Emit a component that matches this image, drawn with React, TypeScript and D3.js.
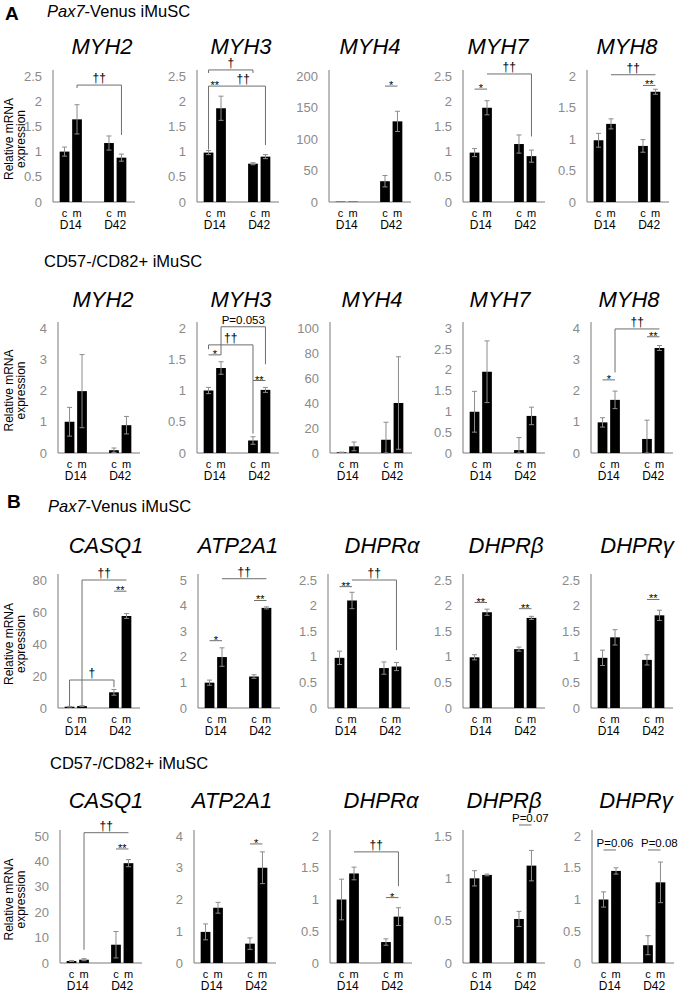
import React, { useEffect, useRef } from 'react';
import * as d3 from 'd3';

// ---- data ----
const groups = ['D14', 'D42'];
const conditions = ['c', 'm'];

const myhGenes = ['MYH2', 'MYH3', 'MYH4', 'MYH7', 'MYH8'];
const caGenes = ['CASQ1', 'ATP2A1', 'DHPRα', 'DHPRβ', 'DHPRγ'];

// bar order: D14 c, D14 m, D42 c, D42 m
const pax7MyhMeans = [
    [1.0, 1.64, 1.17, 0.88],
    [0.98, 1.86, 0.76, 0.9],
    [0.5, 0.5, 33, 128],
    [0.98, 1.87, 1.15, 0.91],
    [0.98, 1.24, 0.89, 1.75],
];
const pax7MyhErrors = [
    [0.09, 0.29, 0.14, 0.07],
    [0.04, 0.24, 0.02, 0.04],
    [0, 0, 9, 16],
    [0.08, 0.14, 0.18, 0.12],
    [0.11, 0.08, 0.1, 0.04],
];
const pax7MyhTicks = [
    [0, 0.5, 1, 1.5, 2, 2.5],
    [0, 0.5, 1, 1.5, 2, 2.5],
    [0, 50, 100, 150, 200],
    [0, 0.5, 1, 1.5, 2, 2.5],
    [0, 0.5, 1, 1.5, 2],
];

const cd57MyhMeans = [
    [1.0, 1.98, 0.09, 0.89],
    [1.0, 1.36, 0.2, 1.01],
    [0.5, 5.3, 10.6, 40],
    [0.99, 1.95, 0.07, 0.89],
    [0.98, 1.7, 0.45, 3.36],
];
const cd57MyhErrors = [
    [0.46, 1.17, 0.07, 0.28],
    [0.05, 0.1, 0.06, 0.04],
    [0.2, 3.5, 14, 37],
    [0.49, 0.74, 0.3, 0.21],
    [0.15, 0.28, 0.6, 0.08],
];
const cd57MyhTicks = [
    [0, 1, 2, 3, 4],
    [0, 0.5, 1, 1.5, 2],
    [0, 20, 40, 60, 80, 100],
    [0, 0.5, 1, 1.5, 2, 2.5, 3],
    [0, 1, 2, 3, 4],
];

const pax7CaMeans = [
    [0.8, 1.2, 9.8, 57.5],
    [0.99, 1.99, 1.23, 3.91],
    [0.98, 2.1, 0.78, 0.81],
    [0.99, 1.87, 1.15, 1.76],
    [0.98, 1.38, 0.94, 1.81],
];
const pax7CaErrors = [
    [0.2, 0.3, 1.8, 1.5],
    [0.1, 0.36, 0.07, 0.04],
    [0.13, 0.16, 0.12, 0.08],
    [0.05, 0.06, 0.04, 0.03],
    [0.15, 0.15, 0.1, 0.1],
];
const pax7CaTicks = [
    [0, 20, 40, 60, 80],
    [0, 1, 2, 3, 4, 5],
    [0, 0.5, 1, 1.5, 2, 2.5],
    [0, 0.5, 1, 1.5, 2, 2.5],
    [0, 0.5, 1, 1.5, 2, 2.5],
];

const cd57CaMeans = [
    [0.8, 1.3, 7.2, 39.3],
    [0.98, 1.74, 0.61, 3.0],
    [1.0, 1.41, 0.33, 0.73],
    [1.0, 1.04, 0.52, 1.15],
    [1.0, 1.45, 0.28, 1.27],
];
const cd57CaErrors = [
    [0.2, 0.4, 5.2, 1.4],
    [0.25, 0.17, 0.18, 0.5],
    [0.32, 0.1, 0.05, 0.14],
    [0.09, 0.01, 0.09, 0.18],
    [0.12, 0.05, 0.15, 0.32],
];
const cd57CaTicks = [
    [0, 10, 20, 30, 40, 50],
    [0, 1, 2, 3, 4],
    [0, 0.5, 1, 1.5, 2],
    [0, 0.5, 1, 1.5],
    [0, 0.5, 1, 1.5, 2],
];

// significance marks: bars a..b, line level y, optional leg ends la/lb (data units)
interface Sig {
    a: number;
    b: number;
    y: number;
    la?: number;
    lb?: number;
    text: string;
    start?: boolean;
}

const pax7MyhSig: Sig[][] = [
    [{ a: 1, b: 3, y: 2.32, la: 2.26, lb: 1.33, text: '††' }],
    [
        { a: 0, b: 1, y: 2.3, la: 1.04, text: '**' },
        { a: 1, b: 3, y: 2.3, lb: 1.13, text: '††' },
        { a: 0, b: 2, y: 2.62, la: 2.56, lb: 2.56, text: '†' },
    ],
    [{ a: 2, b: 3, y: 184, text: '*' }],
    [
        { a: 0, b: 1, y: 2.24, text: '*' },
        { a: 1, b: 3, y: 2.54, lb: 1.3, text: '††' },
    ],
    [
        { a: 2, b: 3, y: 1.85, text: '**' },
        { a: 1, b: 3, y: 2.02, text: '††' },
    ],
];

const cd57MyhSig: Sig[][] = [
    [],
    [
        { a: 0, b: 1, y: 1.57, text: '*' },
        { a: 0, b: 2, y: 1.73, la: 1.66, lb: 0.31, text: '††' },
        { a: 1, b: 3, y: 2.02, la: 1.57, lb: 1.42, text: 'P=0.053' },
        { a: 2, b: 3, y: 1.16, text: '**' },
    ],
    [],
    [],
    [
        { a: 0, b: 1, y: 2.34, text: '*' },
        { a: 2, b: 3, y: 3.72, text: '**' },
        { a: 1, b: 3, y: 3.97, la: 2.58, text: '††' },
    ],
];

const pax7CaSig: Sig[][] = [
    [
        { a: 1, b: 3, y: 80, la: 1.9, text: '††' },
        { a: 2, b: 3, y: 73, text: '**' },
        { a: 0, b: 2, y: 17.5, la: 1.3, lb: 13, text: '†' },
    ],
    [
        { a: 0, b: 1, y: 2.63, text: '*' },
        { a: 2, b: 3, y: 4.2, text: '**' },
        { a: 1, b: 3, y: 5.05, text: '††' },
    ],
    [
        { a: 0, b: 1, y: 2.37, text: '**' },
        { a: 1, b: 3, y: 2.5, lb: 1.13, text: '††' },
    ],
    [
        { a: 0, b: 1, y: 2.06, text: '**' },
        { a: 2, b: 3, y: 1.94, text: '**' },
    ],
    [{ a: 2, b: 3, y: 2.12, text: '**' }],
];

const cd57CaSig: Sig[][] = [
    [
        { a: 1, b: 3, y: 51.3, la: 5.2, text: '††' },
        { a: 2, b: 3, y: 44.9, text: '**' },
    ],
    [{ a: 2, b: 3, y: 3.75, text: '*' }],
    [
        { a: 1, b: 3, y: 1.75, lb: 1.21, text: '††' },
        { a: 2, b: 3, y: 1.03, text: '*' },
    ],
    [{ a: 2, b: 3, y: 1.63, text: 'P=0.07', start: true }],
    [
        { a: 0, b: 1, y: 1.78, text: 'P=0.06', start: true },
        { a: 2, b: 3, y: 1.78, text: 'P=0.08', start: true },
    ],
];

const rows = [
    { genes: myhGenes, means: pax7MyhMeans, errors: pax7MyhErrors, ticks: pax7MyhTicks, sig: pax7MyhSig },
    { genes: myhGenes, means: cd57MyhMeans, errors: cd57MyhErrors, ticks: cd57MyhTicks, sig: cd57MyhSig },
    { genes: caGenes, means: pax7CaMeans, errors: pax7CaErrors, ticks: pax7CaTicks, sig: pax7CaSig },
    { genes: caGenes, means: cd57CaMeans, errors: cd57CaErrors, ticks: cd57CaTicks, sig: cd57CaSig },
];

// ---- layout ----
const W = 678;
const H = 994;
const plotW = 80;
const font = "'Liberation Sans', Arial, sans-serif";

const rowLayout = [
    { zero: 202, top: 76, titleY: 54, axisX: [53, 197, 329, 463, 587], titleDx: [49, 44, 41, 35, 40] },
    { zero: 453, top: 328, titleY: 307, axisX: [58, 197, 330, 463, 591], titleDx: [45, 44, 42, 37, 38] },
    { zero: 708, top: 580, titleY: 553, axisX: [58, 198, 328, 463, 591], titleDx: [48, 40, 54, 43, 46] },
    { zero: 963, top: 836, titleY: 808, axisX: [60, 194, 330, 463, 592], titleDx: [46, 38, 51, 41, 44] },
];

const headings = [
    { letter: 'A', lx: 5, ly: 20, x: 47, y: 17, pax: true },
    { letter: '', lx: 0, ly: 0, x: 44, y: 267, pax: false },
    { letter: 'B', lx: 7, ly: 508, x: 48, y: 512, pax: true },
    { letter: '', lx: 0, ly: 0, x: 50, y: 769, pax: false },
];

const App: React.FC = () => {
    const svgRef = useRef<SVGSVGElement | null>(null);

    useEffect(() => {
        document.body.style.margin = '0';
        if (svgRef.current) drawChart();
    }, []);

    const drawChart = () => {
        const svg = d3.select(svgRef.current);
        svg.selectAll('*').remove();
        svg.attr('width', W).attr('height', H).style('font-family', font).style('display', 'block');

        const x0 = d3.scaleBand<string>().domain(groups).range([0, plotW]).paddingInner(0.5).paddingOuter(0.15);
        const x1 = d3.scaleBand<string>().domain(conditions).range([0, x0.bandwidth()]).paddingInner(0.22);
        const barX = (i: number) => x0(groups[Math.floor(i / 2)])! + x1(conditions[i % 2])!;
        const barC = (i: number) => barX(i) + x1.bandwidth() / 2;

        // section headings
        headings.forEach((h) => {
            if (h.letter) {
                svg.append('text')
                    .attr('x', h.lx)
                    .attr('y', h.ly)
                    .attr('fill', '#000')
                    .style('font-size', '19px')
                    .style('font-weight', 'bold')
                    .text(h.letter);
            }
            const t = svg.append('text').attr('x', h.x).attr('y', h.y).attr('fill', '#000').style('font-size', '16.5px');
            if (h.pax) {
                t.append('tspan').style('font-style', 'italic').text('Pax7');
                t.append('tspan').text('-Venus iMuSC');
            } else {
                t.text('CD57-/CD82+ iMuSC');
            }
        });

        rows.forEach((row, r) => {
            const lay = rowLayout[r];

            row.genes.forEach((gene, c) => {
                const ticks = row.ticks[c];
                const y = d3.scaleLinear().domain([0, d3.max(ticks)!]).range([lay.zero, lay.top]);
                const g = svg.append('g').attr('transform', `translate(${lay.axisX[c]},0)`);

                // title
                g.append('text')
                    .attr('x', lay.titleDx[c])
                    .attr('y', lay.titleY)
                    .attr('text-anchor', 'middle')
                    .attr('fill', '#000')
                    .style('font-size', '22px')
                    .style('font-style', 'italic')
                    .text(gene);

                // y axis
                const ax = g.append('g').call(
                    d3.axisLeft(y).tickValues(ticks).tickSize(0).tickPadding(11).tickFormat(d3.format('~g'))
                );
                ax.select('.domain').remove();
                ax.selectAll('text').style('font-size', '13px').style('font-family', font).attr('fill', '#8a8a8a');

                g.append('line')
                    .attr('x1', 0).attr('x2', 0)
                    .attr('y1', lay.top - 6).attr('y2', lay.zero)
                    .attr('stroke', '#7a7a7a');
                g.append('line')
                    .attr('x1', 0).attr('x2', plotW + 2)
                    .attr('y1', lay.zero).attr('y2', lay.zero)
                    .attr('stroke', '#7a7a7a');

                // bars
                const means = row.means[c];
                const errs = row.errors[c];
                g.selectAll('.bar')
                    .data(means)
                    .enter()
                    .append('rect')
                    .attr('x', (_, i) => barX(i))
                    .attr('width', x1.bandwidth())
                    .attr('y', (d) => y(d))
                    .attr('height', (d) => lay.zero - y(d))
                    .attr('fill', '#000');

                // error bars
                means.forEach((m, i) => {
                    const e = errs[i];
                    if (e <= 0) return;
                    const cx = barC(i);
                    const hi = y(m + e);
                    const lo = y(Math.max(0, m - e));
                    const eb = g.append('g').attr('stroke', '#8c8c8c').attr('stroke-width', 1);
                    eb.append('line').attr('x1', cx).attr('x2', cx).attr('y1', hi).attr('y2', lo);
                    eb.append('line').attr('x1', cx - 2.5).attr('x2', cx + 2.5).attr('y1', hi).attr('y2', hi);
                    eb.append('line').attr('x1', cx - 2.5).attr('x2', cx + 2.5).attr('y1', lo).attr('y2', lo);
                });

                // category labels
                means.forEach((_, i) => {
                    g.append('text')
                        .attr('x', barC(i))
                        .attr('y', lay.zero + 15)
                        .attr('text-anchor', 'middle')
                        .attr('fill', '#000')
                        .style('font-size', '11px')
                        .text(conditions[i % 2]);
                });
                groups.forEach((grp) => {
                    g.append('text')
                        .attr('x', x0(grp)! + x0.bandwidth() / 2)
                        .attr('y', lay.zero + 27)
                        .attr('text-anchor', 'middle')
                        .attr('fill', '#000')
                        .style('font-size', '12px')
                        .text(grp);
                });

                // significance brackets
                row.sig[c].forEach((s) => {
                    const xa = barC(s.a);
                    const xb = barC(s.b);
                    const ly = y(s.y);
                    const sg = g.append('g').attr('stroke', '#6e6e6e').attr('fill', 'none');
                    sg.append('line').attr('x1', xa).attr('x2', xb).attr('y1', ly).attr('y2', ly);
                    if (s.la !== undefined)
                        sg.append('line').attr('x1', xa).attr('x2', xa).attr('y1', ly).attr('y2', y(s.la));
                    if (s.lb !== undefined)
                        sg.append('line').attr('x1', xb).attr('x2', xb).attr('y1', ly).attr('y2', y(s.lb));

                    const isStar = s.text.includes('*');
                    const isP = s.text.startsWith('P');
                    g.append('text')
                        .attr('x', s.start ? xa - 7 : (xa + xb) / 2)
                        .attr('y', isStar ? ly + 3 : isP ? ly - 3 : ly - 3)
                        .attr('text-anchor', s.start ? 'start' : 'middle')
                        .attr('fill', '#000')
                        .style('font-size', isStar ? '11px' : isP ? '11.5px' : '12px')
                        .text(s.text);
                });

                // y axis title on the first column
                if (c === 0) {
                    const mid = (lay.zero + lay.top) / 2;
                    ['Relative mRNA', 'expression'].forEach((line, k) => {
                        svg.append('text')
                            .attr('transform', `translate(${13 + k * 12},${mid}) rotate(-90)`)
                            .attr('text-anchor', 'middle')
                            .attr('fill', '#000')
                            .style('font-size', '12px')
                            .text(line);
                    });
                }
            });
        });
    };

    return <svg ref={svgRef}></svg>;
};

export default App;
